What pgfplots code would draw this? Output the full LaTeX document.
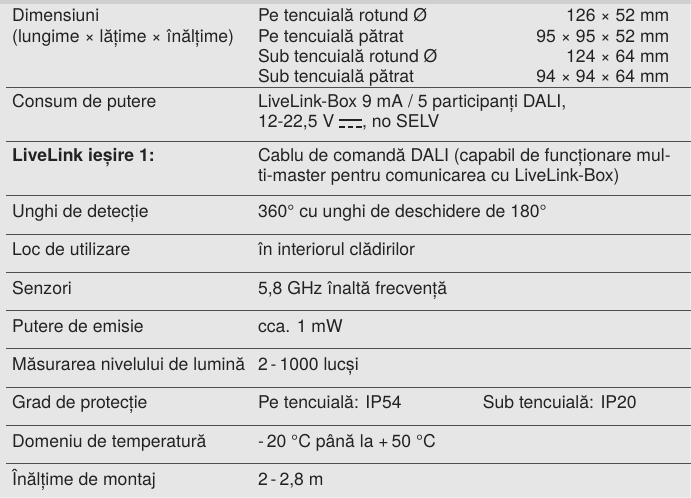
\documentclass[border=0pt]{standalone}
\usepackage{pgfplots}
\pgfplotsset{compat=1.18}
\usepackage{fontspec}
\setmainfont{TeX Gyre Heros}
\definecolor{bg}{HTML}{E6E6E6}
\definecolor{band}{HTML}{CFCFCF}
\definecolor{rule}{HTML}{4E4E4E}
\definecolor{txt}{HTML}{222222}
\newcommand{\dc}{\mbox{\rlap{\rule[0.75ex]{1.3em}{2.2pt}}\rule[0ex]{0.32em}{2.2pt}\hspace{0.17em}\rule[0ex]{0.32em}{2.2pt}\hspace{0.17em}\rule[0ex]{0.32em}{2.2pt}}}
\tikzset{
  L/.style={font=\fontsize{17.6bp}{20bp}\selectfont, text=txt, inner sep=0pt, anchor=mid west},
  R/.style={font=\fontsize{17.6bp}{20bp}\selectfont, text=txt, inner sep=0pt, anchor=mid east},
}
\begin{document}
\begin{tikzpicture}
\begin{axis}[
  width=691bp, height=498bp, scale only axis,
  xmin=0, xmax=691, ymin=0, ymax=498, y dir=reverse,
  axis lines=none, ticks=none, clip=false,
]
\addplot[fill=bg, draw=none] coordinates {(0,0) (691,0) (691,498) (0,498) (0,0)};
\addplot[fill=band, draw=none] coordinates {(0,0) (691,0) (691,4) (0,4) (0,0)};
% rules
\foreach \r in {88,142,196,234.3,272.6,310.9,349.1,387.4,425.7,464} {
  \edef\temp{\noexpand\addplot[draw=rule, line width=1bp] coordinates {(6,\r) (691,\r)};}
  \temp
}
% column 1
\node[L] at (axis cs:12,19) {Dimensiuni};
\node[L] at (axis cs:12,39.5) {(lungime × lățime × înălțime)};
\node[L] at (axis cs:12,104.75) {Consum de putere};
\node[L] at (axis cs:12,158.75) {\bfseries LiveLink ieșire 1:};
\node[L] at (axis cs:12,215) {Unghi de detecție};
\node[L] at (axis cs:12,253.5) {Loc de utilizare};
\node[L] at (axis cs:12,291.8) {Senzori};
\node[L] at (axis cs:12,330) {Putere de emisie};
\node[L] at (axis cs:12,368.3) {Măsurarea nivelului de lumină};
\node[L] at (axis cs:12,406.5) {Grad de protecție};
\node[L] at (axis cs:12,444.8) {Domeniu de temperatură};
\node[L] at (axis cs:12,483) {Înălțime de montaj};
% column 2
\node[L] at (axis cs:258,19) {Pe tencuială rotund Ø};
\node[L] at (axis cs:258,39.5) {Pe tencuială pătrat};
\node[L] at (axis cs:258,60) {Sub tencuială rotund Ø};
\node[L] at (axis cs:258,80) {Sub tencuială pătrat};
\node[L] at (axis cs:258,104.75) {LiveLink-Box 9 mA / 5 participanți DALI,};
\node[L] at (axis cs:258,125.25) {12-22,5 V \dc, no SELV};
\node[L] at (axis cs:258,158.75) {Cablu de comandă DALI (capabil de funcționare mul-};
\node[L] at (axis cs:258,179.25) {ti-master pentru comunicarea cu LiveLink-Box)};
\node[L] at (axis cs:258,215) {360° cu unghi de deschidere de 180°};
\node[L] at (axis cs:258,253.5) {în interiorul clădirilor};
\node[L] at (axis cs:258,291.8) {5,8 GHz înaltă frecvență};
\node[L] at (axis cs:258,330) {cca. 1 mW};
\node[L] at (axis cs:258,368.3) {2\,-\,1000 lucși};
\node[L] at (axis cs:258,406.5) {Pe tencuială: IP54};
\node[L] at (axis cs:483,406.5) {Sub tencuială: IP20};
\node[L] at (axis cs:258,444.8) {-\,20 °C până la +\,50 °C};
\node[L] at (axis cs:258,483) {2\,-\,2,8 m};
% column 3
\node[R] at (axis cs:670,19) {126 × 52 mm};
\node[R] at (axis cs:670,39.5) {95 × 95 × 52 mm};
\node[R] at (axis cs:670,60) {124 × 64 mm};
\node[R] at (axis cs:670,80) {94 × 94 × 64 mm};
\end{axis}
\end{tikzpicture}
\end{document}
